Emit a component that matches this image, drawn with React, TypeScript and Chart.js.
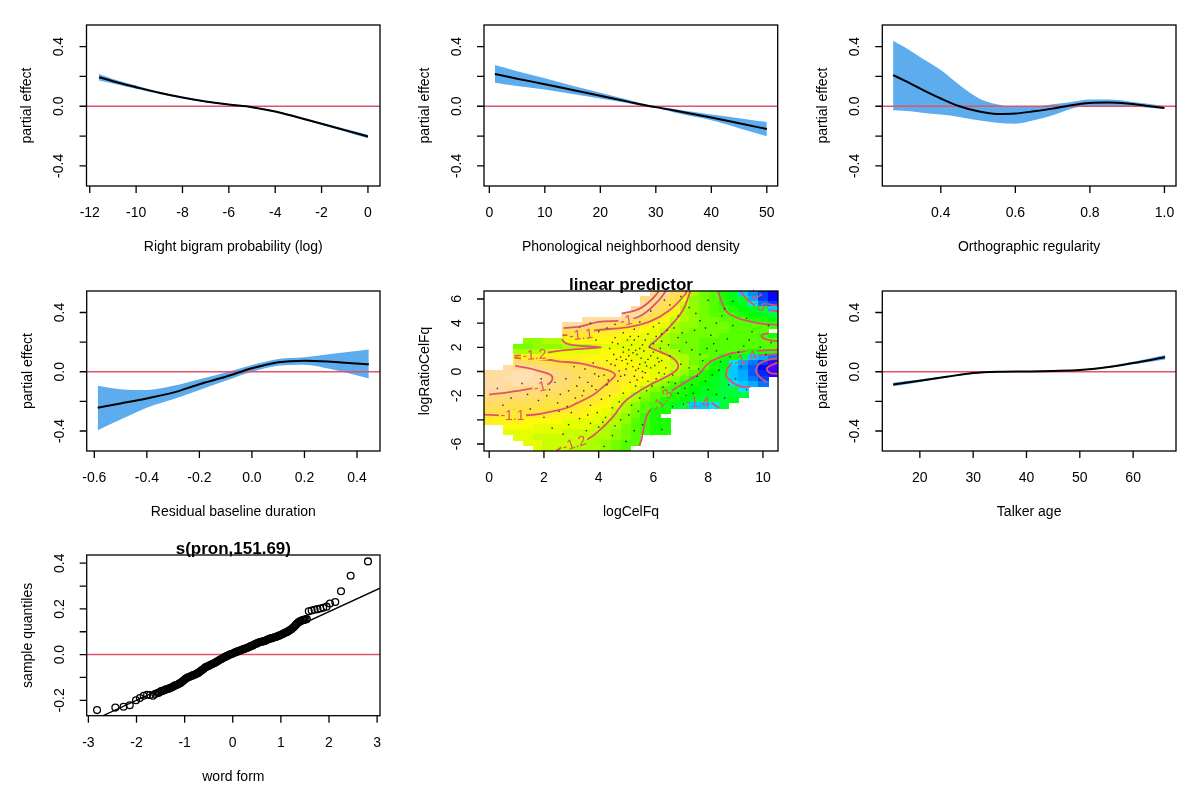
import React, { useEffect, useRef } from 'react';
import { Chart, registerables } from 'chart.js';

Chart.register(...registerables);

const W = 1200;
const H = 802;
const FONT = '"Liberation Sans", Arial, Helvetica, sans-serif';
const RED = '#DF536B';
const BAND = '#5CACEE';

// ---------- partial effect panels ----------
const P1_X = [-11.6, -11, -10, -9, -8, -7, -6, -5, -4, -3, -2, -1, 0];
const P1_FIT = [0.195, 0.168, 0.128, 0.09, 0.058, 0.032, 0.011, -0.006, -0.035, -0.075, -0.117, -0.16, -0.203];
const P1_UP = [0.217, 0.183, 0.139, 0.098, 0.064, 0.037, 0.015, -0.002, -0.03, -0.069, -0.11, -0.151, -0.191];
const P1_LO = [0.173, 0.153, 0.117, 0.082, 0.052, 0.027, 0.007, -0.01, -0.04, -0.081, -0.124, -0.169, -0.215];

const P2_X = [1, 5, 10, 15, 20, 25, 29, 30, 35, 40, 45, 50];
const P2_FIT = [0.216, 0.185, 0.148, 0.109, 0.07, 0.031, 0.0, -0.006, -0.041, -0.076, -0.114, -0.153];
const P2_UP = [0.276, 0.235, 0.187, 0.138, 0.09, 0.043, 0.006, 0.0, -0.028, -0.056, -0.08, -0.106];
const P2_LO = [0.157, 0.135, 0.112, 0.082, 0.052, 0.02, -0.006, -0.012, -0.056, -0.094, -0.147, -0.202];

const P3_X = [0.272, 0.3, 0.35, 0.4, 0.45, 0.5, 0.55, 0.6, 0.65, 0.7, 0.75, 0.8, 0.85, 0.9, 0.95, 1.0];
const P3_FIT = [0.209, 0.175, 0.112, 0.052, 0.0, -0.034, -0.052, -0.049, -0.034, -0.016, 0.007, 0.022, 0.025, 0.018, 0.004, -0.011];
const P3_UP = [0.44, 0.4, 0.321, 0.243, 0.142, 0.056, 0.013, -0.005, -0.003, 0.013, 0.029, 0.045, 0.045, 0.034, 0.018, 0.0];
const P3_LO = [-0.027, -0.031, -0.043, -0.056, -0.072, -0.094, -0.11, -0.117, -0.094, -0.061, -0.016, 0.002, 0.002, 0.0, -0.009, -0.018];

const P4_X = [-0.587, -0.5, -0.4, -0.3, -0.2, -0.1, 0, 0.1, 0.2, 0.3, 0.445];
const P4_FIT = [-0.243, -0.214, -0.18, -0.141, -0.084, -0.034, 0.023, 0.064, 0.075, 0.068, 0.05];
const P4_UP = [-0.095, -0.118, -0.123, -0.095, -0.05, -0.005, 0.045, 0.086, 0.098, 0.12, 0.15];
const P4_LO = [-0.395, -0.323, -0.243, -0.186, -0.123, -0.061, 0.0, 0.041, 0.048, 0.018, -0.045];

const P6_X = [15, 20, 25, 30, 35, 40, 45, 50, 55, 60, 66];
const P6_FIT = [-0.086, -0.061, -0.034, -0.009, 0.0, 0.002, 0.005, 0.011, 0.03, 0.059, 0.098];
const P6_UP = [-0.074, -0.053, -0.029, -0.005, 0.003, 0.005, 0.008, 0.014, 0.035, 0.067, 0.113];
const P6_LO = [-0.098, -0.069, -0.039, -0.013, -0.003, -0.001, 0.002, 0.008, 0.025, 0.051, 0.083];

const EFFECT_Y_TICKS = [-0.4, -0.2, 0, 0.2, 0.4];
const EFFECT_Y_LABELS = ['-0.4', '', '0.0', '', '0.4'];

const P1_XTICKS = [-12, -10, -8, -6, -4, -2, 0];
const P1_XLABELS = ['-12', '-10', '-8', '-6', '-4', '-2', '0'];
const P2_XTICKS = [0, 10, 20, 30, 40, 50];
const P2_XLABELS = ['0', '10', '20', '30', '40', '50'];
const P3_XTICKS = [0.4, 0.6, 0.8, 1.0];
const P3_XLABELS = ['0.4', '0.6', '0.8', '1.0'];
const P4_XTICKS = [-0.6, -0.4, -0.2, 0, 0.2, 0.4];
const P4_XLABELS = ['-0.6', '-0.4', '-0.2', '0.0', '0.2', '0.4'];
const P6_XTICKS = [20, 30, 40, 50, 60];
const P6_XLABELS = ['20', '30', '40', '50', '60'];

// ---------- contour panel ----------
const GRID_X0 = -0.19;
const GRID_DX = 0.358;
const GRID_YTOP = 6.66;
const GRID_DY = 0.4413;
const Z_CODES = '0123456789abcdefghijklmnopqrstuvwxyz';
const Z_BASE = -1.66;
const Z_STEP = 0.02;
const ZGRID = [
  '.................wyusmkjhfca74',
  '................wyvtplkjhfeb75',
  '................ywusnlkjhgfd97',
  '...............xyvtqmlkjihgfec',
  '..............yywtqomlkjjihgfe',
  '..........yyyyxvtrpnmlkkjjjhhg',
  '........yywvutsrqpomllkkkjjjji',
  '........uutsrrqqponmlkkkkjjjj.',
  '........rrrqqqppoomlkkkkjjjjih',
  '....llmmopppppooonmlkkjjjjjjjj',
  '...kklllmmmnooooommkkkjjjjjjjj',
  '...mmmnoooooppoooommkkjjjjihhh',
  '...pqqqqqqpppppoooommkkjhhecb9',
  '...vuuttssrrqqppooonmkjhfdb973',
  '..yxxwvuuttsrqppooonmljhfca852',
  'yyyzzyxwvuttssrqpoomljhgecb863',
  'yyzzzyxwvuutssrqpomljhhfecb97.',
  'yyyzyyxwvuttsrqpomljhhgfedcb9.',
  'yyxxwwvvuttsrrpomljihgffeed...',
  'xwwwvvuuttssrqomljjhhgffeee...',
  'vvvvuutttssrqonmkjhhgeeeef....',
  'uuttttsssrrqpomljihfeccde.....',
  'tttsssssrrqponmkjhh...........',
  'srrrrrrqqqpoomlkih............',
  'rqqqppppoooonmljihh...........',
  '..pppoooooonmmkjihh...........',
  '..oooooonnnnmlkjihh...........',
  '...oonnnnnnmmlkj..............',
  '....oonnnnmmlkjj..............',
  '.....onnnmmmlkj...............',
];

const C_A = [[0.0, -1.92], [0.8, -1.68], [1.63, -1.37], [2.1, -1.12], [2.3, -0.7], [2.25, -0.3], [1.8, 0.05], [1.39, 0.29], [0.95, 0.47]];
const C_B = [[-0.19, -3.57], [0.4, -3.64], [0.83, -3.66], [1.63, -3.58], [2.3, -3.3], [2.85, -3.0], [3.19, -2.64], [3.82, -1.9], [4.2, -1.2], [4.45, -0.7], [4.6, -0.29], [4.45, 0.0], [4.1, 0.25], [3.8, 0.42], [3.33, 0.68], [2.58, 0.82], [2.24, 0.95], [1.39, 1.06], [0.92, 1.12]];
const C_C = [[0.92, 1.3], [1.63, 1.39], [2.6, 1.72], [3.5, 1.9], [4.1, 2.0], [3.5, 2.1], [3.0, 2.2], [2.75, 2.4], [2.66, 2.68]];
const C_D = [[7.35, 6.66], [7.08, 5.09], [6.6, 3.71], [6.11, 2.6], [5.86, 2.06], [6.23, 1.64], [6.72, 1.09], [6.9, 0.54], [6.84, 0.12], [6.47, -0.43], [5.86, -1.12], [5.26, -1.95], [4.89, -2.64], [4.53, -3.74], [4.04, -4.85], [3.55, -5.67], [3.07, -5.95], [2.7, -6.2], [2.45, -6.58]];
const C_E = [[2.68, 3.0], [3.33, 3.05], [3.8, 3.38], [5.0, 3.65], [5.86, 4.12], [6.6, 5.09], [7.14, 6.33], [7.22, 6.66]];
const C_F = [[2.72, 3.6], [3.3, 3.72], [4.0, 4.1], [5.0, 4.25], [5.6, 4.7], [6.2, 5.9], [6.45, 6.66]];
const C_G = [[4.85, 4.78], [5.5, 5.2], [6.0, 6.1], [6.2, 6.66]];
const C_H = [[5.48, -6.14], [5.56, -5.67], [5.74, -3.74], [5.93, -3.05], [6.3, -2.4], [6.72, -1.53], [7.2, -0.84], [7.69, -0.15], [8.0, 0.67], [8.4, 1.15], [8.9, 1.53], [9.7, 1.7], [10.55, 1.8]];
const C_I = [[8.36, 6.66], [8.5, 5.7], [8.66, 4.98], [9.0, 4.5], [9.51, 4.15], [10.0, 3.95], [10.55, 3.87]];
const C_J = [[9.18, 6.66], [9.4, 6.0], [9.67, 5.53], [10.0, 5.2], [10.55, 4.98]];
const C_K = [[9.7, 6.66], [9.85, 6.0], [10.15, 5.6], [10.55, 5.45]];
const C_L = [[10.2, 3.15], [9.95, 3.0], [10.05, 2.7], [10.55, 2.5]];
const C_M = [[10.55, 1.45], [9.6, 1.25], [9.0, 0.9], [8.8, 0.56], [8.66, -0.05], [8.7, -0.55], [9.15, -1.23], [9.55, -1.28]];
const C_N = [[10.55, 1.1], [10.1, 0.9], [9.85, 0.6], [9.75, 0.0], [9.95, -0.6], [10.15, -0.9]];
const C_O = [[10.55, 0.75], [10.15, 0.3], [10.25, -0.1], [10.55, -0.2]];
const C_P = [[7.2, -3.05], [7.35, -2.6], [7.7, -2.45], [8.1, -2.6], [8.3, -2.85], [8.4, -3.05]];
const CONTOUR_LINES = [C_A, C_B, C_C, C_D, C_E, C_F, C_G, C_H, C_I, C_J, C_K, C_L, C_M, C_N, C_O, C_P];

const CL_TEXT = ['-1', '-1.1', '-1.2', '-1', '-1.1', '-1.2', '-1.3', '-1.4', '-1.4', '-1.5'];
const CL_X = [5.0, 3.35, 1.65, 1.85, 0.85, 3.1, 6.3, 7.62, 9.35, 9.86];
const CL_Y = [4.25, 3.07, 1.41, -1.25, -3.65, -5.93, -2.35, -2.5, 1.1, 5.95];
const CL_ANGLE = [10, 6, 4, 13, 0, 18, 50, 0, 20, -65];

const DOTS = [
  [4.6, 0.5], [4.8, 1.2], [5.0, 0.2], [5.1, 1.8], [5.2, 0.9], [5.3, -0.4], [5.4, 1.4], [5.5, 0.6], [5.6, 2.2], [5.7, -0.1],
  [5.8, 1.0], [5.9, 0.3], [6.0, 1.6], [6.1, -0.6], [6.2, 0.8], [6.3, 2.5], [5.05, 2.6], [4.7, -0.8], [5.35, -1.2], [5.75, -1.6],
  [6.4, -0.2], [4.9, 1.6], [5.25, 0.4], [5.55, 1.1], [5.15, -0.9], [5.45, 2.9], [4.4, 1.9], [4.3, 0.9], [4.2, -0.3], [6.6, 1.3],
  [2.2, -1.5], [2.5, -2.6], [2.8, -0.6], [3.0, -3.4], [3.2, -1.2], [3.4, -2.0], [3.5, 0.2], [3.6, -0.9], [3.7, -2.8], [3.9, -1.5],
  [4.0, -0.4], [4.1, -2.3], [3.3, -3.9], [2.6, -1.9], [3.8, 0.7], [2.9, -4.4], [1.8, -2.4], [1.5, -3.1], [1.2, -1.0], [0.8, -2.2],
  [0.3, -1.4], [2.0, -3.8], [4.3, -1.1], [4.5, -3.0], [3.1, 0.4], [2.7, -5.2], [3.4, -5.6], [4.0, -4.6], [4.5, -5.3], [4.8, -4.0],
  [5.1, -3.6], [5.3, -4.9], [4.2, -6.2], [3.7, -4.3], [5.6, -4.4], [5.0, -5.8], [2.3, -4.7], [6.8, -1.0], [7.0, 0.6], [7.2, -2.0],
  [7.4, 1.8], [7.6, -0.4], [7.8, 0.9], [8.0, -1.5], [8.2, 2.3], [8.4, 0.1], [8.6, -2.2], [8.8, 1.2], [9.0, -0.6], [6.9, 2.8],
  [7.5, 3.4], [8.1, 3.0], [7.1, -2.7], [6.7, -2.9], [6.3, -4.8], [6.0, -2.9], [9.3, 2.1], [9.6, 3.3], [9.9, 2.0], [10.1, 1.4],
  [9.4, -1.5], [3.3, 3.6], [4.0, 3.3], [4.6, 2.8], [5.3, 3.5], [5.8, 3.1], [6.2, 4.0], [6.5, 3.4], [6.9, 4.6], [7.3, 5.3],
  [7.7, 4.2], [8.0, 5.9], [8.5, 4.6], [8.9, 3.8], [9.4, 4.4], [7.0, 6.2], [6.6, 5.5], [4.6, 3.9], [3.7, 4.0], [9.8, 5.5],
  [10.2, 3.8], [5.9, 5.0], [7.9, 3.6], [8.6, 5.2], [6.0, 3.7], [5.6, 0.0], [5.2, 2.2], [4.95, -0.3], [6.05, 0.5], [5.85, 2.0],
  [5.4, -0.7], [4.85, 0.9], [6.25, 1.9], [5.65, 1.7], [4.55, 1.4], [5.95, -1.2], [6.45, 0.3], [5.1, 1.3], [5.3, 2.6], [4.7, 2.3],
  [6.7, -0.3], [7.3, 0.3], [7.7, 1.4], [6.95, 1.7], [7.15, -1.4], [5.5, -2.2], [4.9, -1.8], [4.4, -2.0], [3.95, -3.4], [6.35, -1.3],
  [5.45, 0.25], [5.7, 0.75], [5.0, 1.0], [4.75, 0.05], [5.9, 1.3], [6.15, 1.1], [5.35, 1.75], [4.45, 0.6], [3.85, -0.2], [3.3, -0.5],
  [2.9, -1.6], [2.4, -0.9], [6.55, 2.2], [7.9, -0.8], [8.3, 1.7], [7.45, -1.8], [8.7, 2.7], [9.2, 0.4], [4.25, -3.8], [3.55, -4.9],
  [5.05, 0.65], [5.25, 1.55], [5.5, 1.9], [5.75, 0.45], [6.0, 2.3], [4.9, 2.0], [5.6, -0.5], [6.2, -0.1], [4.65, 1.0], [5.35, 0.1],
  [5.8, -0.8], [6.3, 0.9], [4.8, -0.4], [5.15, 2.9], [5.7, 2.6], [6.1, 2.9], [4.5, 2.4], [4.35, -0.7], [3.75, -1.2], [3.45, -1.6],
  [3.15, -2.2], [2.85, -2.9], [2.55, -3.3], [2.1, -2.0], [1.9, -0.6], [1.4, -1.9], [0.9, -3.2], [0.5, -2.8], [3.6, -3.6], [4.15, -4.2],
  [4.6, -4.5], [5.2, -2.8], [5.45, -3.3], [4.75, -2.5], [6.55, -0.9], [6.9, -1.8], [7.4, -1.1], [7.65, 0.2], [7.95, 1.9], [8.15, -0.3],
  [8.45, 0.8], [8.75, -1.1], [9.1, 1.6], [9.5, 2.6], [7.2, 2.4], [6.75, 3.6], [7.05, 3.2], [6.3, 3.1], [5.5, 4.1], [4.9, 3.2],
  [4.3, 3.6], [3.9, 2.6], [7.55, 4.8], [8.3, 4.0], [8.9, 5.8], [6.4, 5.9], [9.9, 4.8], [10.3, 2.4], [7.8, -2.3], [8.3, -1.9],
];
const C5_XTICKS = [0, 2, 4, 6, 8, 10];
const C5_XLABELS = ['0', '2', '4', '6', '8', '10'];
const C5_YTICKS = [-6, -4, -2, 0, 2, 4, 6];
const C5_YLABELS = ['-6', '', '-2', '0', '2', '4', '6'];

// ---------- QQ panel ----------
const QQ_X = [
  -2.82, -2.44, -2.27, -2.14, -2.01, -1.93, -1.85, -1.78, -1.72, -1.66, -1.61,
  -1.56, -1.51, -1.46, -1.41, -1.36, -1.31, -1.26, -1.21, -1.16, -1.11, -1.06, -1.01, -0.96, -0.91, -0.86, -0.81,
  -0.76, -0.71, -0.66, -0.61, -0.56, -0.51, -0.46, -0.41, -0.36, -0.31, -0.26, -0.21, -0.16, -0.11, -0.06, -0.01,
  0.04, 0.09, 0.14, 0.19, 0.24, 0.29, 0.34, 0.39, 0.44, 0.49, 0.54, 0.59, 0.64, 0.69, 0.74, 0.79, 0.84, 0.89,
  0.94, 0.99, 1.04, 1.09, 1.14, 1.19, 1.24, 1.29, 1.34, 1.39, 1.44, 1.49, 1.54,
  1.58, 1.64, 1.7, 1.76, 1.82, 1.88, 1.95, 2.02, 2.13, 2.25, 2.45, 2.81,
];
const QQ_Y = [
  -0.243, -0.232, -0.228, -0.222, -0.2, -0.19, -0.18, -0.176, -0.177, -0.18, -0.172,
  -0.168, -0.163, -0.158, -0.155, -0.151, -0.147, -0.142, -0.136, -0.132, -0.127, -0.12, -0.111, -0.103, -0.098, -0.094, -0.089,
  -0.085, -0.079, -0.071, -0.063, -0.055, -0.05, -0.045, -0.04, -0.035, -0.028, -0.022, -0.016, -0.01, -0.005, 0.0, 0.004,
  0.009, 0.013, 0.017, 0.021, 0.025, 0.029, 0.033, 0.038, 0.043, 0.048, 0.053, 0.056, 0.058, 0.062, 0.067, 0.071, 0.074, 0.077,
  0.081, 0.086, 0.09, 0.096, 0.1, 0.107, 0.115, 0.125, 0.137, 0.145, 0.15, 0.153, 0.156,
  0.19, 0.193, 0.196, 0.199, 0.202, 0.205, 0.21, 0.224, 0.23, 0.277, 0.345, 0.408,
];
const QQ_X2 = [
  -1.535, -1.485, -1.435, -1.385, -1.335, -1.285, -1.235, -1.185, -1.135, -1.085, -1.035, -0.985, -0.935, -0.885, -0.835, -0.785,
  -0.735, -0.685, -0.635, -0.585, -0.535, -0.485, -0.435, -0.385, -0.335, -0.285, -0.235, -0.185, -0.135, -0.085, -0.035,
  0.015, 0.065, 0.115, 0.165, 0.215, 0.265, 0.315, 0.365, 0.415, 0.465, 0.515, 0.565, 0.615, 0.665, 0.715, 0.765,
  0.815, 0.865, 0.915, 0.965, 1.015, 1.065, 1.115, 1.165, 1.215, 1.265, 1.315, 1.365, 1.415, 1.465, 1.515,
];
const QQ_Y2 = [
  -0.167, -0.16, -0.157, -0.152, -0.15, -0.145, -0.14, -0.134, -0.13, -0.124, -0.116, -0.107, -0.1, -0.096, -0.091, -0.087,
  -0.082, -0.075, -0.067, -0.059, -0.052, -0.048, -0.042, -0.037, -0.031, -0.025, -0.019, -0.013, -0.008, -0.002, 0.002,
  0.006, 0.011, 0.015, 0.019, 0.023, 0.027, 0.031, 0.036, 0.04, 0.046, 0.05, 0.055, 0.057, 0.06, 0.065, 0.069,
  0.072, 0.076, 0.079, 0.083, 0.088, 0.093, 0.098, 0.104, 0.111, 0.12, 0.131, 0.141, 0.148, 0.151, 0.154,
];
const QQ_LINE_INTERCEPT = -0.006;
const QQ_LINE_SLOPE = 0.097;
const QQ_XTICKS = [-3, -2, -1, 0, 1, 2, 3];
const QQ_XLABELS = ['-3', '-2', '-1', '0', '1', '2', '3'];
const QQ_YTICKS = [-0.2, -0.1, 0, 0.1, 0.2, 0.3, 0.4];
const QQ_YLABELS = ['-0.2', '', '0.0', '', '0.2', '', '0.4'];

// ---------- helpers ----------
const zip = (xs: number[], ys: number[]) => xs.map((x, i) => ({ x, y: ys[i] }));

function hsv(h: number, s: number, v: number) {
  const i = Math.floor(h * 6);
  const f = h * 6 - i;
  const p = v * (1 - s), q = v * (1 - f * s), t = v * (1 - (1 - f) * s);
  let r = 0, g = 0, b = 0;
  switch (((i % 6) + 6) % 6) {
    case 0: r = v; g = t; b = p; break;
    case 1: r = q; g = v; b = p; break;
    case 2: r = p; g = v; b = t; break;
    case 3: r = p; g = q; b = v; break;
    case 4: r = t; g = p; b = v; break;
    default: r = v; g = p; b = q;
  }
  return `rgb(${Math.round(r * 255)},${Math.round(g * 255)},${Math.round(b * 255)})`;
}
function topoColors(n: number) {
  const j = Math.floor(n / 3), k = Math.floor(n / 3), i = n - j - k;
  const seq = (a: number, b: number, len: number) => Array.from({ length: len }, (_, m) => (len === 1 ? a : a + ((b - a) * m) / (len - 1)));
  const out: string[] = [];
  seq(43 / 60, 31 / 60, i).forEach((h) => out.push(hsv(h, 1, 1)));
  seq(23 / 60, 11 / 60, j).forEach((h) => out.push(hsv(h, 1, 1)));
  const hs = seq(10 / 60, 6 / 60, k), ss = seq(1, 0.3, k);
  hs.forEach((h, m) => out.push(hsv(h, ss[m], 1)));
  return out;
}
const TOPO = topoColors(100);
const zOf = (c: string) => Z_BASE + Z_STEP * Z_CODES.indexOf(c);
const ZVALS = ZGRID.join('').split('').filter((c) => c !== '.').map(zOf);
const ZMIN = Math.min(...ZVALS);
const ZMAX = Math.max(...ZVALS);
function colorOf(z: number) {
  let idx = Math.floor(((z - ZMIN) / (ZMAX - ZMIN)) * 100);
  if (idx > 99) idx = 99;
  if (idx < 0) idx = 0;
  return TOPO[idx];
}

function drawCells(ctx: CanvasRenderingContext2D, xs: any, ys: any) {
  ZGRID.forEach((row, k) => {
    for (let i = 0; i < row.length; i++) {
      const c = row[i];
      if (c === '.') continue;
      const x0 = xs.getPixelForValue(GRID_X0 + i * GRID_DX);
      const x1 = xs.getPixelForValue(GRID_X0 + (i + 1) * GRID_DX);
      const y0 = ys.getPixelForValue(GRID_YTOP - k * GRID_DY);
      const y1 = ys.getPixelForValue(GRID_YTOP - (k + 1) * GRID_DY);
      ctx.fillStyle = colorOf(zOf(c));
      const l = Math.floor(x0), t = Math.floor(y0);
      ctx.fillRect(l, t, Math.ceil(x1) - l, Math.ceil(y1) - t);
    }
  });
}

type Box = { l: number; r: number; t: number; b: number };
type AxesCfg = {
  xTicks: number[]; xLabels: string[]; yTicks: number[]; yLabels: string[];
  xTitle: string; yTitle: string; main?: string;
};

function axesPlugin(cfg: AxesCfg) {
  return {
    id: 'rAxes',
    afterDraw(chart: any) {
      const { ctx, chartArea: a, scales } = chart;
      const xs = scales.x, ys = scales.y;
      ctx.save();
      ctx.strokeStyle = '#000';
      ctx.lineWidth = 1.3;
      ctx.strokeRect(a.left, a.top, a.right - a.left, a.bottom - a.top);
      ctx.beginPath();
      cfg.xTicks.forEach((v) => {
        const p = xs.getPixelForValue(v);
        ctx.moveTo(p, a.bottom);
        ctx.lineTo(p, a.bottom + 7);
      });
      cfg.yTicks.forEach((v) => {
        const p = ys.getPixelForValue(v);
        ctx.moveTo(a.left, p);
        ctx.lineTo(a.left - 7, p);
      });
      ctx.stroke();
      ctx.fillStyle = '#000';
      ctx.font = `14px ${FONT}`;
      ctx.textAlign = 'center';
      ctx.textBaseline = 'middle';
      cfg.xTicks.forEach((v, i) => ctx.fillText(cfg.xLabels[i], xs.getPixelForValue(v), a.bottom + 27));
      cfg.yTicks.forEach((v, i) => {
        if (!cfg.yLabels[i]) return;
        ctx.save();
        ctx.translate(a.left - 27, ys.getPixelForValue(v));
        ctx.rotate(-Math.PI / 2);
        ctx.fillText(cfg.yLabels[i], 0, 0);
        ctx.restore();
      });
      ctx.fillText(cfg.xTitle, (a.left + a.right) / 2, a.bottom + 61);
      ctx.save();
      ctx.translate(a.left - 59, (a.top + a.bottom) / 2);
      ctx.rotate(-Math.PI / 2);
      ctx.fillText(cfg.yTitle, 0, 0);
      ctx.restore();
      if (cfg.main) {
        ctx.font = `bold 17px ${FONT}`;
        ctx.textBaseline = 'alphabetic';
        ctx.fillText(cfg.main, (a.left + a.right) / 2, a.top - 1);
      }
      ctx.restore();
    },
  };
}

function baseOptions(box: Box, xr: number[], yr: number[]) {
  return {
    responsive: false,
    animation: false,
    devicePixelRatio: 1,
    events: [],
    layout: { padding: { left: box.l, top: box.t, right: W - box.r, bottom: H - box.b } },
    scales: {
      x: { type: 'linear', min: xr[0], max: xr[1], display: false },
      y: { type: 'linear', min: yr[0], max: yr[1], display: false },
    },
    plugins: { legend: { display: false }, tooltip: { enabled: false } },
  };
}

const EFFECT_YR = [-0.535, 0.545];

function effectChart(box: Box, xr: number[], x: number[], fit: number[], up: number[], lo: number[], xTicks: number[], xLabels: string[], xTitle: string) {
  return {
    type: 'line',
    data: {
      datasets: [
        { data: zip(x, fit), borderColor: '#000', borderWidth: 2, pointRadius: 0, cubicInterpolationMode: 'monotone', fill: false },
        { data: [{ x: xr[0], y: 0 }, { x: xr[1], y: 0 }], borderColor: RED, borderWidth: 1.3, pointRadius: 0, fill: false },
        { data: zip(x, up), borderColor: 'rgba(0,0,0,0)', borderWidth: 0, backgroundColor: BAND, pointRadius: 0, cubicInterpolationMode: 'monotone', fill: '+1' },
        { data: zip(x, lo), borderColor: 'rgba(0,0,0,0)', borderWidth: 0, pointRadius: 0, cubicInterpolationMode: 'monotone', fill: false },
      ],
    },
    options: baseOptions(box, xr, EFFECT_YR),
    plugins: [axesPlugin({ xTicks, xLabels, yTicks: EFFECT_Y_TICKS, yLabels: EFFECT_Y_LABELS, xTitle, yTitle: 'partial effect' })],
  };
}

function contourChart() {
  const box = { l: 484, r: 778, t: 291, b: 451 };
  const xr = [-0.19, 10.55];
  const yr = [-6.58, 6.66];
  const heat = {
    id: 'heat',
    beforeDatasetsDraw(chart: any) {
      const { ctx, scales } = chart;
      ctx.save();
      drawCells(ctx, scales.x, scales.y);
      ctx.restore();
    },
  };
  const labels = {
    id: 'clabels',
    afterDatasetsDraw(chart: any) {
      const { ctx, scales } = chart;
      const xs = scales.x, ys = scales.y;
      ctx.save();
      ctx.font = `14px ${FONT}`;
      CL_TEXT.forEach((txt, n) => {
        const px = xs.getPixelForValue(CL_X[n]);
        const py = ys.getPixelForValue(CL_Y[n]);
        const ang = (-CL_ANGLE[n] * Math.PI) / 180;
        const w = ctx.measureText(txt).width + 3;
        const h = 12;
        ctx.save();
        const m = ctx.getTransform();
        ctx.translate(px, py);
        ctx.rotate(ang);
        ctx.beginPath();
        ctx.rect(-w / 2, -h / 2, w, h);
        ctx.setTransform(m);
        ctx.clip();
        drawCells(ctx, xs, ys);
        ctx.restore();
        ctx.save();
        ctx.translate(px, py);
        ctx.rotate(ang);
        ctx.fillStyle = RED;
        ctx.textAlign = 'center';
        ctx.textBaseline = 'middle';
        ctx.fillText(txt, 0, 1);
        ctx.restore();
      });
      ctx.restore();
    },
  };
  const datasets: any[] = [
    {
      data: DOTS.map(([x, y]) => ({ x, y })), showLine: false, pointRadius: 1.0, pointStyle: 'rect',
      pointBackgroundColor: 'rgba(30,30,30,0.9)', pointBorderWidth: 0, borderWidth: 0,
    },
  ];
  CONTOUR_LINES.forEach((pts) => {
    datasets.push({ data: pts.map(([x, y]) => ({ x, y })), borderColor: RED, borderWidth: 1.8, pointRadius: 0, tension: 0.4, fill: false });
  });
  return {
    type: 'line',
    data: { datasets },
    options: baseOptions(box, xr, yr),
    plugins: [heat, labels, axesPlugin({ xTicks: C5_XTICKS, xLabels: C5_XLABELS, yTicks: C5_YTICKS, yLabels: C5_YLABELS, xTitle: 'logCelFq', yTitle: 'logRatioCelFq', main: 'linear predictor' })],
  };
}

function qqChart() {
  const box = { l: 86.7, r: 380, t: 555, b: 715.7 };
  const xr = [-3.035, 3.06];
  const yr = [-0.2675, 0.436];
  const pts = zip(QQ_X, QQ_Y).concat(zip(QQ_X2, QQ_Y2));
  return {
    type: 'line',
    data: {
      datasets: [
        {
          data: pts, showLine: false, pointRadius: 3.4, pointStyle: 'circle',
          pointBorderColor: '#000', pointBackgroundColor: 'rgba(0,0,0,0)', pointBorderWidth: 1.3, borderWidth: 0,
        },
        {
          data: xr.map((x) => ({ x, y: QQ_LINE_INTERCEPT + QQ_LINE_SLOPE * x })),
          borderColor: '#000', borderWidth: 1.3, pointRadius: 0, fill: false, clip: 0,
        },
        { data: [{ x: xr[0], y: 0 }, { x: xr[1], y: 0 }], borderColor: RED, borderWidth: 1.5, pointRadius: 0, fill: false },
      ],
    },
    options: baseOptions(box, xr, yr),
    plugins: [axesPlugin({ xTicks: QQ_XTICKS, xLabels: QQ_XLABELS, yTicks: QQ_YTICKS, yLabels: QQ_YLABELS, xTitle: 'word form', yTitle: 'sample quantiles', main: 's(pron,151.69)' })],
  };
}

const BUILDERS = [
  () => effectChart({ l: 86.5, r: 380, t: 25, b: 186 }, [-12.14, 0.52], P1_X, P1_FIT, P1_UP, P1_LO, P1_XTICKS, P1_XLABELS, 'Right bigram probability (log)'),
  () => effectChart({ l: 484, r: 777.7, t: 25, b: 186 }, [-0.96, 51.96], P2_X, P2_FIT, P2_UP, P2_LO, P2_XTICKS, P2_XLABELS, 'Phonological neighborhood density'),
  () => effectChart({ l: 882.3, r: 1176, t: 25, b: 186 }, [0.243, 1.031], P3_X, P3_FIT, P3_UP, P3_LO, P3_XTICKS, P3_XLABELS, 'Orthographic regularity'),
  () => effectChart({ l: 86.7, r: 380, t: 291, b: 451 }, [-0.629, 0.4876], P4_X, P4_FIT, P4_UP, P4_LO, P4_XTICKS, P4_XLABELS, 'Residual baseline duration'),
  contourChart,
  () => effectChart({ l: 882.3, r: 1176, t: 291, b: 451 }, [12.96, 68.04], P6_X, P6_FIT, P6_UP, P6_LO, P6_XTICKS, P6_XLABELS, 'Talker age'),
  qqChart,
];

export default function App() {
  const refs = useRef<(HTMLCanvasElement | null)[]>([]);
  useEffect(() => {
    const charts = BUILDERS.map((b, i) => new Chart(refs.current[i] as HTMLCanvasElement, b() as any));
    return () => charts.forEach((c) => c.destroy());
  }, []);
  return (
    <div style={{ position: 'fixed', left: 0, top: 0, width: W, height: H, background: '#fff', overflow: 'hidden' }}>
      {BUILDERS.map((_, i) => (
        <canvas
          key={i}
          ref={(el) => { refs.current[i] = el; }}
          width={W}
          height={H}
          style={{ position: 'absolute', left: 0, top: 0, width: W, height: H }}
        />
      ))}
    </div>
  );
}
